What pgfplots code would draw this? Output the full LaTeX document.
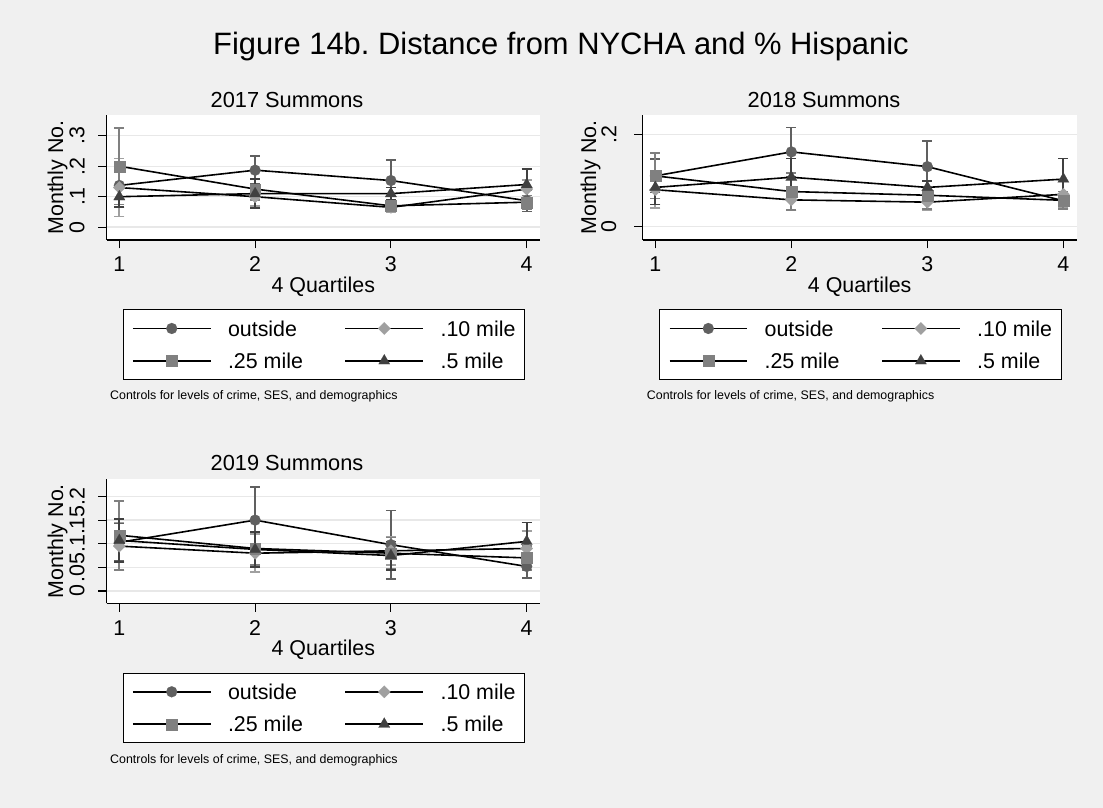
\documentclass[border=0pt]{standalone}
\usepackage{pgfplots}
\pgfplotsset{compat=1.18}
\usepackage{fontspec}
\setmainfont{Liberation Sans}
\definecolor{bg}{gray}{0.94}
\definecolor{gA}{RGB}{96,96,96}
\definecolor{gB}{RGB}{160,160,160}
\definecolor{gC}{RGB}{128,128,128}
\definecolor{gD}{RGB}{64,64,64}
\definecolor{gridc}{RGB}{232,232,232}
\newcommand{\fs}[1]{\fontsize{#1}{#1}\selectfont}

\pgfplotsset{
  panel/.style={
    scale only axis, width=433.3pt, height=125pt,
    xmin=0.907, xmax=4.098,
    axis lines=left, axis line style={-, black, line width=1.1pt},
    axis background/.style={fill=white},
    xtick={1,2,3,4}, xticklabels={1,2,3,4},
    tick align=outside, major tick length=8.5pt,
    tick style={black, line width=1.1pt},
    ymajorgrids, grid style={gridc, line width=1.4pt},
    tick label style={font=\fs{21.4}, inner sep=0pt},
    yticklabel style={rotate=90, anchor=south},
    xticklabel style={anchor=north},
    xticklabel shift=8.3pt,
    xlabel={4 Quartiles}, ylabel={Monthly No.},
    label style={font=\fs{21.4}, inner sep=0pt},
    xlabel style={at={(axis description cs:0.5,0)}, anchor=base, yshift=-52.7pt},
    legend columns=2,
    legend cell align=left,
    legend style={anchor=north west,
      draw=black, line width=0.9pt, fill=white, font=\fs{21.4},
      inner xsep=9pt, inner ysep=11pt,
      nodes={inner sep=0pt, text height=15.5pt, text depth=0pt},
      /tikz/every odd column/.append style={column sep=16.7pt},
      /tikz/every even column/.append style={column sep=41.7pt},
      row sep=16.9pt},
    legend image code/.code={\draw[mark repeat=2, mark phase=2, #1] plot coordinates {(0pt,0pt) (38.8pt,0pt) (77.6pt,0pt)};},
  },
  sA/.style={black, line width=1.6pt, mark=*, mark size=5.5pt, mark options={solid, draw=gA, fill=gA, line width=0.1pt}},
  sB/.style={black, line width=1.6pt, mark=diamond*, mark size=6.2pt, mark options={solid, draw=gB, fill=gB, line width=0.1pt, xscale=1.333}},
  sC/.style={black, line width=1.6pt, mark=square*, mark size=5.4pt, mark options={solid, draw=gC, fill=gC, line width=0.1pt}},
  sD/.style={black, line width=1.6pt, mark=triangle*, mark size=6.6pt, mark options={solid, draw=gD, fill=gD, line width=0.1pt}},
  eb/.style={forget plot, only marks, mark=none,
    error bars/.cd, y dir=both, y explicit,
    error bar style={line width=1.8pt, color=#1},
    error mark options={rotate=90, line width=1.6pt, mark size=5pt, color=#1}},
}

\begin{document}
\begin{tikzpicture}[x=1pt,y=1pt]
\fill[bg] (0,0) rectangle (1103,808);
\useasboundingbox (0,0) rectangle (1103,808);

\node[font=\fs{30.9}, anchor=base, inner sep=0pt] at (561,753.5) {Figure 14b.\ Distance from NYCHA and \% Hispanic};

% ---------------- 2017 ----------------
\node[font=\fs{21.8}, anchor=base, inner sep=0pt] at (287,700.7) {2017 Summons};
\begin{axis}[panel, at={(106.7pt,568pt)}, anchor=south west,
  ymin=-0.042, ymax=0.368, ytick={0,0.1,0.2,0.3}, yticklabels={0,.1,.2,.3},
  yticklabel shift=13.4pt,
  ylabel style={at={(axis description cs:-0.1135,0.5)}, anchor=center},
  legend style={at={(axis description cs:0.0369,-0.5544)}}]
\addplot[eb=gA] coordinates {(1,0.137) +- (0,0.070) (2,0.187) +- (0,0.046) (3,0.153) +- (0,0.067) (4,0.087) +- (0,0.035)};
\addplot[eb=gB] coordinates {(1,0.130) +- (0,0.095) (2,0.100) +- (0,0.030) (3,0.065) +- (0,0.015) (4,0.125) +- (0,0.030)};
\addplot[eb=gC] coordinates {(1,0.200) +- (0,0.125) (2,0.125) +- (0,0.035) (3,0.070) +- (0,0.015) (4,0.082) +- (0,0.022)};
\addplot[eb=gD] coordinates {(1,0.100) +- (0,0.033) (2,0.110) +- (0,0.048) (3,0.110) +- (0,0.020) (4,0.140) +- (0,0.050)};
\addplot[sA] coordinates {(1,0.137) (2,0.187) (3,0.153) (4,0.087)};
\addplot[sB] coordinates {(1,0.130) (2,0.100) (3,0.065) (4,0.125)};
\addplot[sC] coordinates {(1,0.200) (2,0.125) (3,0.070) (4,0.082)};
\addplot[sD] coordinates {(1,0.100) (2,0.110) (3,0.110) (4,0.140)};
\legend{outside,.10 mile,.25 mile,.5 mile}
\end{axis}
\node[font=\fs{12.4}, anchor=west, inner sep=0pt] at (110,411.3) {Controls for levels of crime, SES, and demographics};

% ---------------- 2018 ----------------
\node[font=\fs{21.8}, anchor=base, inner sep=0pt] at (824,700.7) {2018 Summons};
\begin{axis}[panel, at={(642.7pt,568pt)}, anchor=south west, width=434pt,
  ymin=-0.029, ymax=0.242, ytick={0,0.2}, yticklabels={0,.2},
  yticklabel shift=17.7pt,
  ylabel style={at={(axis description cs:-0.1203,0.5)}, anchor=center},
  legend style={at={(axis description cs:0.0382,-0.5544)}}]
\addplot[eb=gA] coordinates {(1,0.110) +- (0,0.036) (2,0.162) +- (0,0.053) (3,0.130) +- (0,0.055) (4,0.056) +- (0,0.016)};
\addplot[eb=gB] coordinates {(1,0.080) +- (0,0.040) (2,0.058) +- (0,0.022) (3,0.053) +- (0,0.017) (4,0.070) +- (0,0.030)};
\addplot[eb=gC] coordinates {(1,0.110) +- (0,0.049) (2,0.076) +- (0,0.040) (3,0.068) +- (0,0.030) (4,0.057) +- (0,0.019)};
\addplot[eb=gD] coordinates {(1,0.085) +- (0,0.037) (2,0.107) +- (0,0.041) (3,0.085) +- (0,0.014) (4,0.103) +- (0,0.045)};
\addplot[sA] coordinates {(1,0.110) (2,0.162) (3,0.130) (4,0.056)};
\addplot[sB] coordinates {(1,0.080) (2,0.058) (3,0.053) (4,0.070)};
\addplot[sC] coordinates {(1,0.110) (2,0.076) (3,0.068) (4,0.057)};
\addplot[sD] coordinates {(1,0.085) (2,0.107) (3,0.085) (4,0.103)};
\legend{outside,.10 mile,.25 mile,.5 mile}
\end{axis}
\node[font=\fs{12.4}, anchor=west, inner sep=0pt] at (646.7,411.3) {Controls for levels of crime, SES, and demographics};

% ---------------- 2019 ----------------
\node[font=\fs{21.8}, anchor=base, inner sep=0pt] at (287,337) {2019 Summons};
\begin{axis}[panel, at={(106.7pt,204.7pt)}, anchor=south west, height=124.3pt,
  ymin=-0.026, ymax=0.237, ytick={0,0.05,0.1,0.15,0.2}, yticklabels={0,.05,.1,.15,.2},
  yticklabel shift=13.4pt,
  ylabel style={at={(axis description cs:-0.1135,0.5)}, anchor=center},
  legend style={at={(axis description cs:0.0369,-0.5575)}}]
\addplot[eb=gA] coordinates {(1,0.103) +- (0,0.040) (2,0.150) +- (0,0.070) (3,0.098) +- (0,0.072) (4,0.052) +- (0,0.025)};
\addplot[eb=gB] coordinates {(1,0.095) +- (0,0.050) (2,0.080) +- (0,0.040) (3,0.085) +- (0,0.030) (4,0.090) +- (0,0.037)};
\addplot[eb=gC] coordinates {(1,0.118) +- (0,0.073) (2,0.090) +- (0,0.035) (3,0.080) +- (0,0.033) (4,0.070) +- (0,0.025)};
\addplot[eb=gD] coordinates {(1,0.107) +- (0,0.045) (2,0.088) +- (0,0.037) (3,0.075) +- (0,0.030) (4,0.105) +- (0,0.040)};
\addplot[sA] coordinates {(1,0.103) (2,0.150) (3,0.098) (4,0.052)};
\addplot[sB] coordinates {(1,0.095) (2,0.080) (3,0.085) (4,0.090)};
\addplot[sC] coordinates {(1,0.118) (2,0.090) (3,0.080) (4,0.070)};
\addplot[sD] coordinates {(1,0.107) (2,0.088) (3,0.075) (4,0.105)};
\legend{outside,.10 mile,.25 mile,.5 mile}
\end{axis}
\node[font=\fs{12.4}, anchor=west, inner sep=0pt] at (110,48) {Controls for levels of crime, SES, and demographics};
\end{tikzpicture}
\end{document}
